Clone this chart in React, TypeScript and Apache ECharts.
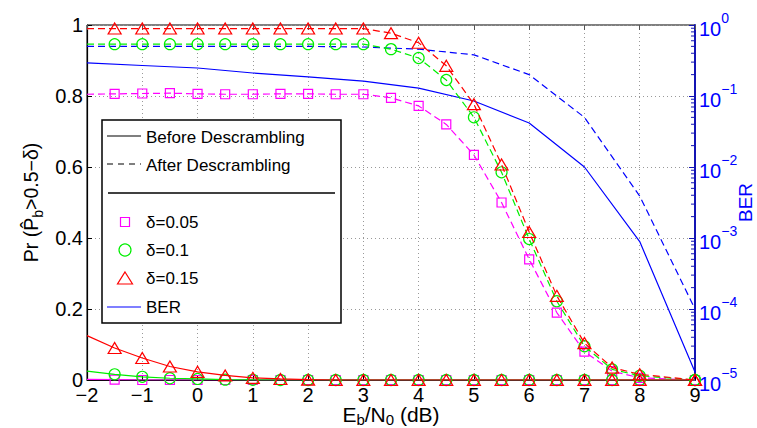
import React, { useEffect, useRef } from "react";
import * as echarts from "echarts";

// E_b/N_0 (dB) grid for the probability curves
const ebn0 = [-2, -1.5, -1, -0.5, 0, 0.5, 1, 1.5, 2, 2.5, 3, 3.5, 4, 4.5, 5, 5.5, 6, 6.5, 7, 7.5, 8, 9];
// Before descrambling (solid)
const before005 = [0.002, 0.001, 0, 0, 0, 0, 0, 0, 0, 0, 0, 0, 0, 0, 0, 0, 0, 0, 0, 0, 0, 0];
const before010 = [0.025, 0.016, 0.009, 0.005, 0.003, 0.001, 0.0005, 0, 0, 0, 0, 0, 0, 0, 0, 0, 0, 0, 0, 0, 0, 0];
const before015 = [0.125, 0.09, 0.062, 0.038, 0.023, 0.013, 0.006, 0.003, 0.001, 0, 0, 0, 0, 0, 0, 0, 0, 0, 0, 0, 0, 0];
// After descrambling (dashed)
const after005 = [0.805, 0.806, 0.807, 0.808, 0.806, 0.805, 0.805, 0.806, 0.806, 0.805, 0.805, 0.795, 0.772, 0.72, 0.634, 0.5, 0.34, 0.19, 0.08, 0.025, 0.006, 0];
const after010 = [0.946, 0.946, 0.946, 0.946, 0.946, 0.946, 0.946, 0.946, 0.946, 0.946, 0.946, 0.932, 0.907, 0.845, 0.74, 0.585, 0.397, 0.222, 0.095, 0.03, 0.012, 0];
const after015 = [0.99, 0.99, 0.99, 0.99, 0.99, 0.99, 0.99, 0.99, 0.99, 0.99, 0.99, 0.977, 0.95, 0.885, 0.777, 0.607, 0.417, 0.237, 0.104, 0.035, 0.016, 0];
// BER (right axis, log scale)
const berX = [-2, -1, 0, 1, 2, 3, 4, 5, 6, 7, 8, 9];
const berBefore = [0.292, 0.269, 0.248, 0.211, 0.186, 0.162, 0.129, 0.0851, 0.0417, 0.01, 0.00089, 0.000013];
const berAfter = [0.5, 0.5, 0.5, 0.5, 0.5, 0.49, 0.457, 0.38, 0.2, 0.05, 0.0039, 0.0001];
// log-axis minor tick mantissas and decades
const minorMantissas = [2, 3, 4, 5, 6, 7, 8, 9];
const minorDecades = [-5, -4, -3, -2, -1];

const FONT = "Liberation Sans, Arial, Helvetica, sans-serif";
const MAGENTA = "#ff00ff";
const GREEN = "#00ee00";
const RED = "#ff0000";
const BLUE = "#0000ff";
const AXBLUE = "#1414b4";

const minus = (s: string) => s.replace("-", "\u2212");

function pairs(xs: number[], ys: number[], hideFirst: boolean) {
  return xs.map((x, i) =>
    hideFirst && i === 0 ? { value: [x, ys[i]], symbol: "none" } : [x, ys[i]]
  );
}

function probSeries(ys: number[], color: string, symbol: string, size: number | number[], dashed: boolean, z: number) {
  return {
    type: "line",
    xAxisIndex: 0,
    yAxisIndex: 0,
    data: pairs(ebn0, ys, true),
    symbol,
    symbolSize: size,
    showSymbol: true,
    showAllSymbol: true,
    z,
    lineStyle: { color, width: 1.2, type: dashed ? [7, 4] : "solid" },
    itemStyle: { color: "rgba(0,0,0,0)", borderColor: color, borderWidth: 1.2 },
    emphasis: { disabled: true },
  };
}

export default function App() {
  const ref = useRef<HTMLDivElement>(null);
  useEffect(() => {
    if (!ref.current) return;
    const chart = echarts.init(ref.current, undefined, { renderer: "svg" });
    const minorTicks: number[][] = [];
    minorDecades.forEach((d) => minorMantissas.forEach((m) => minorTicks.push([9, m * Math.pow(10, d)])));

    const legendX = 102, legendY = 120, legendW = 239, legendH = 203;
    const lx1 = 107, lx2 = 141, tx = 146;
    const txt = (text: string, y: number) => ({
      type: "text",
      x: tx,
      y,
      style: { text, fontSize: 17, fontFamily: FONT, fill: "#000", verticalAlign: "middle", align: "left" },
    });

    chart.setOption({
      animation: false,
      backgroundColor: "#fff",
      grid: {
        left: 87, right: 62, top: 25, bottom: 48,
        outerBoundsMode: "none",
        containLabel: false,
        show: true, borderColor: "#000", borderWidth: 1, backgroundColor: "transparent",
      },
      xAxis: [
        {
          type: "value",
          min: -2,
          max: 9,
          interval: 1,
          position: "bottom",
          name: "E{sub|b}/N{sub|0} (dB)",
          nameLocation: "middle",
          nameGap: 22,
          nameMoveOverlap: false,
          nameTextStyle: {
            fontSize: 21,
            fontFamily: FONT,
            color: "#000",
            lineHeight: 25,
            rich: { sub: { fontSize: 15, fontFamily: FONT, color: "#000", lineHeight: 12, verticalAlign: "bottom" } },
          },
          axisLine: { show: true, onZero: false, lineStyle: { color: "#000", width: 1.2 } },
          axisTick: { show: true, inside: true, length: 5, lineStyle: { color: "#000" } },
          axisLabel: { fontSize: 20, fontFamily: FONT, color: "#000", margin: 8, lineHeight: 14, formatter: (v: number) => minus(String(v)) },
          splitLine: { show: true, lineStyle: { color: "#999", type: [1, 3], width: 1 } },
        },
        {
          type: "value",
          min: -2,
          max: 9,
          interval: 1,
          position: "top",
          axisLine: { show: false, onZero: false },
          axisTick: { show: true, inside: true, length: 5, lineStyle: { color: "#555" } },
          axisLabel: { show: false },
          splitLine: { show: false },
        },
      ],
      yAxis: [
        {
          type: "value",
          min: 0,
          max: 1,
          interval: 0.2,
          position: "left",
          name: "Pr (P\u0302{sub|b}>0.5\u2212\u03b4)",
          nameLocation: "middle",
          nameRotate: 90,
          nameGap: 42,
          nameMoveOverlap: false,
          nameTextStyle: {
            fontSize: 19.5,
            fontFamily: FONT,
            color: "#000",
            lineHeight: 28,
            rich: { sub: { fontSize: 14, fontFamily: FONT, color: "#000", lineHeight: 13, verticalAlign: "bottom" } },
          },
          axisLine: { show: true, onZero: false, lineStyle: { color: "#000", width: 1.2 } },
          axisTick: { show: true, inside: true, length: 5, lineStyle: { color: "#000" } },
          axisLabel: { fontSize: 20, fontFamily: FONT, color: "#000", margin: 4, lineHeight: 14 },
          splitLine: { show: true, lineStyle: { color: "#999", type: [1, 3], width: 1 } },
        },
        {
          type: "log",
          logBase: 10,
          min: 0.00001,
          max: 1,
          position: "right",
          name: "BER",
          nameLocation: "middle",
          nameRotate: 90,
          nameGap: 41,
          nameMoveOverlap: false,
          nameTextStyle: { fontSize: 19, fontFamily: FONT, color: BLUE, lineHeight: 18 },
          axisLine: { show: true, onZero: false, lineStyle: { color: AXBLUE, width: 2 } },
          axisTick: { show: true, inside: true, length: 6, lineStyle: { color: AXBLUE } },
          axisLabel: {
            margin: 4,
            color: BLUE,
            fontFamily: FONT,
            fontSize: 20,
            formatter: (v: number) => "{b|10}{s|" + minus(String(Math.round(Math.log10(v)))) + "}",
            rich: {
              b: { fontSize: 20, fontFamily: FONT, color: BLUE, lineHeight: 28, verticalAlign: "bottom" },
              s: { fontSize: 14, fontFamily: FONT, color: BLUE, lineHeight: 14, verticalAlign: "top" },
            },
          },
          splitLine: { show: false },
        },
      ],
      series: [
        {
          type: "line",
          xAxisIndex: 0,
          yAxisIndex: 1,
          data: pairs(berX, berBefore, false),
          symbol: "none",
          z: 2,
          lineStyle: { color: BLUE, width: 1.2 },
          emphasis: { disabled: true },
        },
        {
          type: "line",
          xAxisIndex: 0,
          yAxisIndex: 1,
          data: pairs(berX, berAfter, false),
          symbol: "none",
          z: 2,
          lineStyle: { color: BLUE, width: 1.2, type: [7, 4] },
          emphasis: { disabled: true },
        },
        probSeries(before005, MAGENTA, "rect", 9, false, 3),
        probSeries(before010, GREEN, "circle", 11, false, 4),
        probSeries(before015, RED, "triangle", [13, 11], false, 5),
        probSeries(after005, MAGENTA, "rect", 9, true, 3),
        probSeries(after010, GREEN, "circle", 11, true, 4),
        probSeries(after015, RED, "triangle", [13, 11], true, 5),
        {
          type: "custom",
          xAxisIndex: 0,
          yAxisIndex: 1,
          data: minorTicks,
          silent: true,
          z: 6,
          renderItem: (_p: any, api: any) => {
            const pt = api.coord([api.value(0), api.value(1)]);
            return {
              type: "line",
              shape: { x1: pt[0] - 4, y1: pt[1], x2: pt[0], y2: pt[1] },
              style: { stroke: AXBLUE, lineWidth: 1 },
            };
          },
        },
      ],
      graphic: [
        {
          type: "rect",
          z: 100,
          shape: { x: legendX, y: legendY, width: legendW, height: legendH },
          style: { fill: "#fff", stroke: "#000", lineWidth: 1.5 },
        },
        { type: "line", z: 101, shape: { x1: lx1, y1: 136, x2: lx2, y2: 136 }, style: { stroke: "#000", lineWidth: 1.2 } },
        { ...txt("Before Descrambling", 137), z: 101 },
        { type: "line", z: 101, shape: { x1: lx1, y1: 164, x2: lx2, y2: 164 }, style: { stroke: "#000", lineWidth: 1.2, lineDash: [6, 5] } },
        { ...txt("After Descrambling", 165), z: 101 },
        { type: "line", z: 101, shape: { x1: 108, y1: 193, x2: 335, y2: 193 }, style: { stroke: "#000", lineWidth: 1.6 } },
        { type: "rect", z: 101, shape: { x: 120.5, y: 217.5, width: 9, height: 9 }, style: { fill: "none", stroke: MAGENTA, lineWidth: 1.2 } },
        { ...txt("\u03b4=0.05", 222), z: 101 },
        { type: "circle", z: 101, shape: { cx: 125, cy: 250, r: 6 }, style: { fill: "none", stroke: GREEN, lineWidth: 1.2 } },
        { ...txt("\u03b4=0.1", 250), z: 101 },
        { type: "polygon", z: 101, shape: { points: [[125, 272], [132.5, 284], [117.5, 284]] }, style: { fill: "none", stroke: RED, lineWidth: 1.2 } },
        { ...txt("\u03b4=0.15", 278), z: 101 },
        { type: "line", z: 101, shape: { x1: lx1, y1: 307, x2: lx2, y2: 307 }, style: { stroke: BLUE, lineWidth: 1.2 } },
        { ...txt("BER", 307), z: 101 },
      ],
    });
    return () => chart.dispose();
  }, []);
  return <div ref={ref} style={{ position: "fixed", left: 0, top: 0, width: 757, height: 428 }} />;
}
